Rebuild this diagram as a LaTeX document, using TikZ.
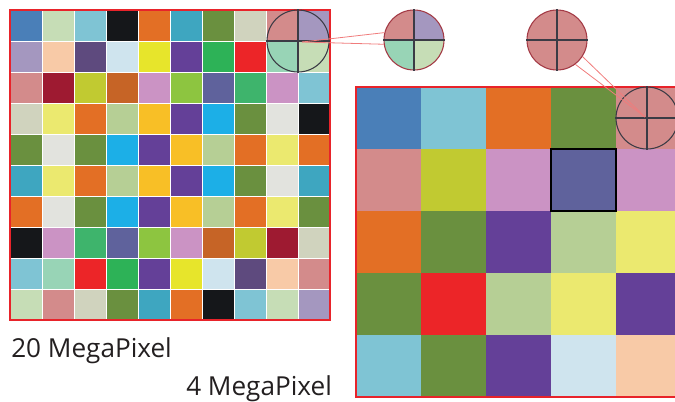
\documentclass[tikz,border=0pt]{standalone}
\usepackage{fontspec}
\setmainfont{Open Sans}

% pixel colours
\definecolor{cSteel}{HTML}{4A7FB8}
\definecolor{cPaleGreen}{HTML}{C6DDB6}
\definecolor{cLightCyan}{HTML}{7FC4D4}
\definecolor{cBlack}{HTML}{15171A}
\definecolor{cOrange}{HTML}{E36F25}
\definecolor{cTeal}{HTML}{3EA6C0}
\definecolor{cOlive}{HTML}{6A903F}
\definecolor{cBeige}{HTML}{D0D3BE}
\definecolor{cRose}{HTML}{D38B8B}
\definecolor{cLavender}{HTML}{A497BF}
\definecolor{cPeach}{HTML}{F8CAA7}
\definecolor{cDarkPurple}{HTML}{5E4A7E}
\definecolor{cPaleBlue}{HTML}{CFE4EE}
\definecolor{cYellow}{HTML}{E7E52B}
\definecolor{cPurple}{HTML}{644098}
\definecolor{cGreen}{HTML}{2DB257}
\definecolor{cRed}{HTML}{EC2528}
\definecolor{cMint}{HTML}{98D4B6}
\definecolor{cCrimson}{HTML}{9E1A31}
\definecolor{cOliveY}{HTML}{C1CA31}
\definecolor{cBurnt}{HTML}{C66426}
\definecolor{cOrchid}{HTML}{CB93C4}
\definecolor{cLime}{HTML}{8DC540}
\definecolor{cSlate}{HTML}{5F629C}
\definecolor{cGreenB}{HTML}{3EB46C}
\definecolor{cPaleYellow}{HTML}{EBE96F}
\definecolor{cSage}{HTML}{B6CF95}
\definecolor{cGolden}{HTML}{F8BF26}
\definecolor{cSky}{HTML}{1CAFE7}
\definecolor{cOffWhite}{HTML}{E2E3DE}
% frame and lens colours
\definecolor{frameRed}{HTML}{E8232A}
\definecolor{ringDark}{HTML}{3B3B45}
\definecolor{ringRed}{HTML}{A33A45}
\definecolor{zoomRed}{HTML}{F07C7C}
\definecolor{textGray}{HTML}{231F20}

\tikzset{
  pixel/.style={draw=white, line width=0.25pt},
  frame/.style={draw=frameRed, line width=1.5pt},
  lens/.style={circle, draw=#1, line width=0.8pt, inner sep=0pt, minimum size=45pt},
  crossline/.style={draw=ringDark, line width=0.8pt},
  zoomline/.style={draw=zoomRed, line width=0.6pt},
  caption/.style={text=textGray, font=\fontsize{19.6}{22}\selectfont, inner sep=0pt, anchor=base west}
}

\begin{document}
\begin{tikzpicture}[x=0.75pt,y=-0.75pt]
\useasboundingbox (0,0) rectangle (675,401);
\begin{scope}
\clip (0,0) rectangle (675,401);

% 20 MP grid
\foreach \row [count=\i from 0] in {
  {cSteel,cPaleGreen,cLightCyan,cBlack,cOrange,cTeal,cOlive,cBeige,cRose,cLavender},
  {cLavender,cPeach,cDarkPurple,cPaleBlue,cYellow,cPurple,cGreen,cRed,cMint,cPaleGreen},
  {cRose,cCrimson,cOliveY,cBurnt,cOrchid,cLime,cSlate,cGreenB,cOrchid,cLightCyan},
  {cBeige,cPaleYellow,cOrange,cSage,cGolden,cPurple,cSky,cOlive,cOffWhite,cBlack},
  {cOlive,cOffWhite,cOlive,cSky,cPurple,cGolden,cSage,cOrange,cPaleYellow,cOrange},
  {cTeal,cPaleYellow,cOrange,cSage,cGolden,cPurple,cSky,cOlive,cOffWhite,cTeal},
  {cOrange,cOffWhite,cOlive,cSky,cPurple,cGolden,cSage,cOrange,cPaleYellow,cOlive},
  {cBlack,cOrchid,cGreenB,cSlate,cLime,cOrchid,cBurnt,cOliveY,cCrimson,cBeige},
  {cLightCyan,cMint,cRed,cGreen,cPurple,cYellow,cPaleBlue,cDarkPurple,cPeach,cRose},
  {cPaleGreen,cRose,cBeige,cOlive,cTeal,cOrange,cBlack,cLightCyan,cPaleGreen,cLavender}}
  \foreach \c [count=\j from 0] in \row
    \filldraw[pixel, fill=\c] ({10+32*\j},{10+31*\i}) rectangle ++(32,31);
\draw[frame] (10,10) rectangle (330,320);

% 4 MP grid
\foreach \row [count=\i from 0] in {
  {cSteel,cLightCyan,cOrange,cOlive,cRose},
  {cRose,cOliveY,cOrchid,cSlate,cOrchid},
  {cOrange,cOlive,cPurple,cSage,cPaleYellow},
  {cOlive,cRed,cSage,cPaleYellow,cPurple},
  {cLightCyan,cOlive,cPurple,cPaleBlue,cPeach}}
  \foreach \c [count=\j from 0] in \row
    \fill[\c] ({356+65*\j},{87+62*\i}) rectangle ++(65,62);
\draw[black, line width=1pt] (551,149) rectangle (616,211);
\draw[frame] (356,87) rectangle (690,397);

% lenses
\node[lens=ringDark, minimum size=46.5pt] (lensA) at (298,41) {};
\draw[crossline] (lensA.north) -- (lensA.south) (lensA.west) -- (lensA.east);

\node[lens=ringRed, path picture={
    \fill[cRose] (path picture bounding box.center) rectangle (path picture bounding box.north west);
    \fill[cLavender] (path picture bounding box.center) rectangle (path picture bounding box.north east);
    \fill[cMint] (path picture bounding box.center) rectangle (path picture bounding box.south west);
    \fill[cPaleGreen] (path picture bounding box.center) rectangle (path picture bounding box.south east);
  }] (lensB) at (414,40) {};
\draw[crossline] (lensB.north) -- (lensB.south) (lensB.west) -- (lensB.east);

\node[lens=ringRed, fill=cRose] (lensC) at (557,40) {};
\draw[crossline] (lensC.north) -- (lensC.south) (lensC.west) -- (lensC.east);

\node[lens=ringDark, minimum size=46.5pt] (lensD) at (647,118) {};
\draw[crossline] (lensD.north) -- (lensD.south) (lensD.west) -- (lensD.east);

% zoom lines
\coordinate (srcA) at (302,42);
\draw[zoomline] (srcA) -- (lensB.166);
\draw[zoomline] (srcA) -- (lensB.188);
\coordinate (srcD) at (645,117);
\draw[zoomline] (srcD) -- (lensC.-53);
\draw[zoomline] (srcD) -- (lensC.-33);
\end{scope}

% captions
\node[caption] (capBig) at (11,357) {20 MegaPixel};
\node[caption] (capSmall) at (186,395) {4 MegaPixel};
\end{tikzpicture}
\end{document}
